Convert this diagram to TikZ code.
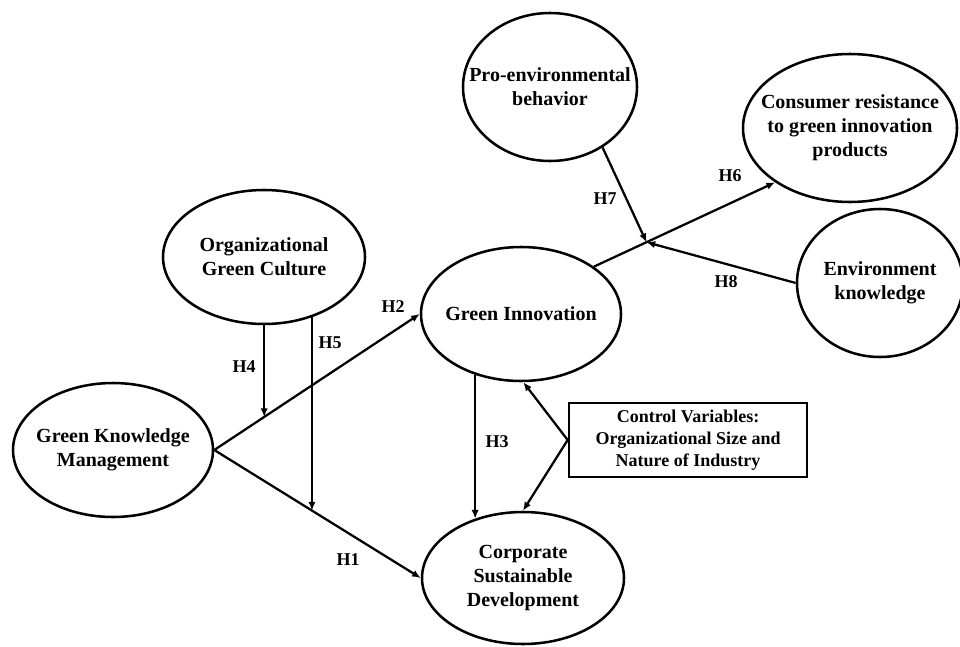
\documentclass[tikz,border=0pt]{standalone}
\usepackage{fontspec}
\setmainfont{Liberation Serif}
\usetikzlibrary{shapes.geometric, arrows.meta}

\tikzset{
  var/.style={ellipse, draw, line width=1.9pt, inner sep=0pt},
  vtext/.style={font=\bfseries\fontsize{15}{18}\selectfont, align=center},
  hyp/.style={font=\bfseries\fontsize{13.5}{16}\selectfont},
  ctrl/.style={draw, line width=2pt, inner sep=0pt, align=center,
    font=\bfseries\fontsize{13.5}{16.5}\selectfont},
  link/.style={->, line width=1.7pt},
}

\begin{document}
\begin{tikzpicture}[x=0.75pt, y=-0.75pt, >={Latex[length=6.5pt,width=5.5pt]}]
\useasboundingbox (0,0) rectangle (960,646);

% constructs
\node[var, minimum width=150pt, minimum height=100.5pt, label={[vtext]center:Green Knowledge\\Management}] (gkm) at (113,450) {};
\node[var, minimum width=151.5pt, minimum height=100.5pt, label={[vtext]center:Organizational\\Green Culture}] (ogc) at (264,257) {};
\node[var, minimum width=150pt, minimum height=100.5pt, label={[vtext]center:Green Innovation}] (gi) at (521,314) {};
\node[var, minimum width=151.5pt, minimum height=99pt, label={[vtext]center:Corporate\\Sustainable\\Development}] (csd) at (523,578) {};
\node[var, minimum width=130.5pt, minimum height=111pt, label={[vtext]center:Pro-environmental\\behavior}] (pro) at (550,87) {};
\node[var, minimum width=160.5pt, minimum height=111pt, label={[vtext]center:Consumer resistance\\to green innovation\\products}] (cons) at (850,128) {};
\node[var, minimum width=124.5pt, minimum height=111pt, label={[vtext]center:Environment\\knowledge}] (env) at (880,283) {};

\node[ctrl, minimum width=178.5pt, minimum height=55.5pt] (cv) at (688,440) {Control Variables:\\Organizational Size and\\Nature of Industry};

% points where moderators meet a path
\path (gkm.east) -- (gi.west) coordinate[pos=.243] (m4);
\path (gkm.east) -- (csd.west) coordinate[pos=.473] (m5);
\path (gi.33) -- (cons.216) coordinate[pos=.29] (m7);

\draw[link] (gkm.east) -- (gi.west);
\draw[link] (gkm.east) -- (csd.west);
\draw[link] (m4 |- ogc.south) -- (m4);
\draw[link] (m5 |- ogc.-51) -- (m5);
\draw[link] (gi.-127) -- (gi.-127 |- csd.129);
\draw[link] (gi.33) -- (cons.216);
\draw[link] (pro.-49) -- (m7);
\draw[link] (env.west) -- (m7);
\draw[link] (cv.west) -- (gi.-88);
\draw[link] (cv.west) -- (csd.north);

\foreach \lab/\x/\y in {H1/348/560, H2/393/307, H3/497/442, H4/244/367,
                        H5/330/343, H6/730/176, H7/605/199, H8/726/282}
{
    \node[hyp] (\lab) at (\x,\y) {\lab};
}
\end{tikzpicture}
\end{document}
